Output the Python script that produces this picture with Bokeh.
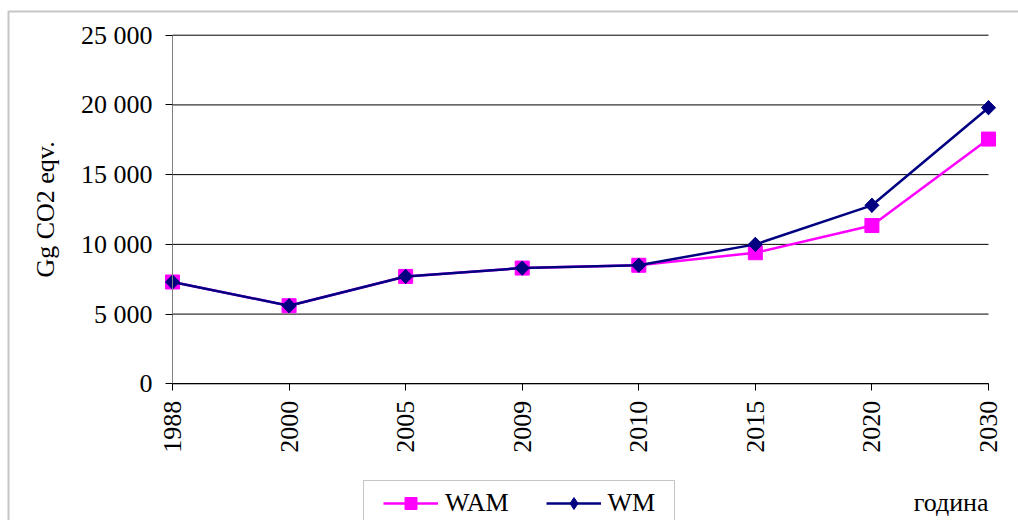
import math
from bokeh.plotting import figure
from bokeh.models import (Range1d, FixedTicker, Legend, LegendItem, BoxAnnotation, Label)
from bokeh.embed import file_html
from bokeh.resources import INLINE

years = ["1988", "2000", "2005", "2009", "2010", "2015", "2020", "2030"]
wam = [7300, 5600, 7700, 8300, 8500, 9400, 11350, 17550]
wm = [7300, 5600, 7700, 8300, 8500, 10000, 12800, 19800]
y_ticks = [0, 5000, 10000, 15000, 20000, 25000]
y_tick_labels = ["0", "5 000", "10 000", "15 000", "20 000", "25 000"]
series_names = ["WAM", "WM"]
x_title = "година"
y_title = "Gg CO2 eqv."

FONT = "Liberation Serif"
FS = "26px"
x = list(range(len(years)))

W, H = 1018, 520
# pixel placement of the plot area inside the canvas
px_x0, px_x1 = 172.0, 988.0      # canvas x of first / last category
px_y0, px_y1 = 383.3, 34.7       # canvas y of 0 and of top tick
n = len(years) - 1
sx = (px_x1 - px_x0) / n
sy = (px_y0 - px_y1) / y_ticks[-1]
x_start = -px_x0 / sx
x_end = n + (W - px_x1) / sx
y_start = -(H - px_y0) / sy
y_end = y_ticks[-1] + px_y1 / sy

p = figure(width=W, height=H, output_backend="svg", toolbar_location=None,
           x_range=Range1d(x_start, x_end), y_range=Range1d(y_start, y_end),
           min_border=0)
p.outline_line_color = None
p.xgrid.visible = False
p.ygrid.visible = False
p.background_fill_color = "white"
p.border_fill_color = "white"

# horizontal gridlines
p.segment(x0=[x[0]] * len(y_ticks), x1=[x[-1]] * len(y_ticks), y0=y_ticks, y1=y_ticks,
          line_color="black", line_width=1)

r1 = p.line(x, wam, line_color="#FF00FF", line_width=2.5)
s1 = p.scatter(x, wam, marker="square", size=14, fill_color="#FF00FF", line_color="#FF00FF")
r2 = p.line(x, wm, line_color="#000080", line_width=2.5)
s2_leg = p.scatter(x, wm, marker="diamond", size=14,
                   fill_color="#000080", line_color="#000080")
s2 = p.scatter(x, wm, marker="square", size=10, angle=math.pi / 4,
               fill_color="#000080", line_color="#000080")

# y axis
ya = p.yaxis[0]
ya.ticker = FixedTicker(ticks=y_ticks)
ya.major_label_overrides = dict(zip(y_ticks, y_tick_labels))
ya.bounds = (0, y_ticks[-1])
ya.fixed_location = 0
ya.axis_line_color = "#808080"
ya.major_tick_line_color = "black"
ya.major_tick_out = 7
ya.major_tick_in = 0
ya.minor_tick_line_color = None
ya.major_label_standoff = 13
ya.major_label_text_font = FONT
ya.major_label_text_font_size = FS
ya.major_label_text_color = "black"
ya.axis_label = y_title
ya.axis_label_text_font = FONT
ya.axis_label_text_font_size = FS
ya.axis_label_text_font_style = "normal"
ya.axis_label_text_color = "black"
ya.axis_label_standoff = 18

# x axis
xa = p.xaxis[0]
xa.ticker = FixedTicker(ticks=x)
xa.major_label_overrides = {i: years[i] for i in x}
xa.bounds = (0, n)
xa.fixed_location = 0
xa.axis_line_color = "black"
xa.major_tick_line_color = "black"
xa.major_tick_out = 7
xa.major_tick_in = 0
xa.minor_tick_line_color = None
xa.major_label_orientation = math.pi / 2
xa.major_label_standoff = 10
xa.major_label_text_font = FONT
xa.major_label_text_font_size = FS
xa.major_label_text_color = "black"

# outer chart-area frame
p.add_layout(BoxAnnotation(left=8, top=11, right=1300, bottom=800,
                           left_units="canvas", right_units="canvas",
                           top_units="canvas", bottom_units="canvas",
                           fill_alpha=0, line_color="#404040", line_width=2))
# legend frame
p.add_layout(BoxAnnotation(left=363, top=480, right=674, bottom=600,
                           left_units="canvas", right_units="canvas",
                           top_units="canvas", bottom_units="canvas",
                           fill_alpha=0, line_color="#404040", line_width=1))

legend = Legend(items=[LegendItem(label=series_names[0], renderers=[r1, s1]),
                       LegendItem(label=series_names[1], renderers=[r2, s2_leg])],
                location=(383, 2), orientation="horizontal", padding=0, margin=0,
                spacing=37, glyph_width=55, glyph_height=30, label_height=30,
                label_standoff=7, label_text_font=FONT, label_text_font_size=FS,
                label_text_color="black",
                border_line_alpha=0, background_fill_alpha=0)
p.add_layout(legend, "center")

p.add_layout(Label(x=988, y=502, x_units="canvas", y_units="canvas", text=x_title,
                   text_align="right", text_baseline="middle",
                   text_font=FONT, text_font_size=FS, text_color="black"))

open("out.html", "w").write(file_html(p, INLINE))
